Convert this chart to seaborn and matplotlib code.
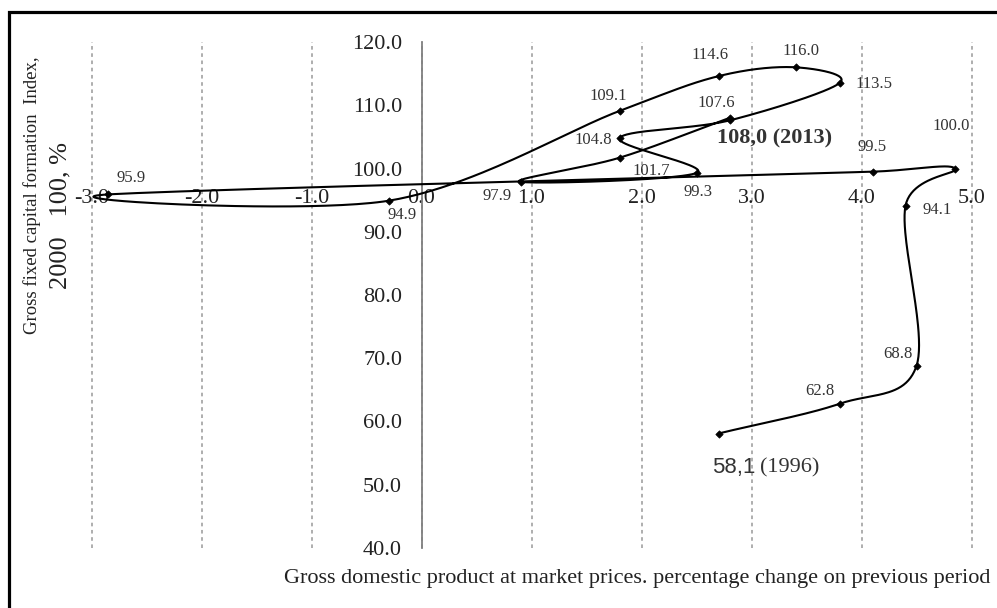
import numpy as np
import pandas as pd
import matplotlib
matplotlib.use("Agg")
import matplotlib.pyplot as plt
from matplotlib.patches import Rectangle
import seaborn as sns

# data (index 2000 = 100, GDP growth in %)
years = list(range(1996, 2014))
gdp_growth = [2.7, 3.8, 4.5, 4.4, 4.85, 4.1, -2.85, -0.3, 1.8,
              2.7, 3.4, 3.8, 2.8, 1.8, 2.5, 0.9, 1.8, 2.8]
gfcf_index = [58.1, 62.8, 68.8, 94.1, 100.0, 99.5, 95.9, 94.9, 109.1,
              114.6, 116.0, 113.5, 107.6, 104.8, 99.3, 97.9, 101.7, 108.0]
x_ticks = [-3.0, -2.0, -1.0, 0.0, 1.0, 2.0, 3.0, 4.0, 5.0]
y_ticks = [40.0, 50.0, 60.0, 70.0, 80.0, 90.0, 100.0, 110.0, 120.0]

df = pd.DataFrame({"year": years, "gdp": gdp_growth, "gfcf": gfcf_index})

sns.set_theme(style="white")
plt.rcParams["font.family"] = ["Liberation Serif", "DejaVu Serif"]

W, H = 997, 608
fig = plt.figure(figsize=(W / 100, H / 100), dpi=100)
# axes placed so that x=-3 sits at px 91 and x=5 at px 971, y 120..40 at px 42..548
ax = fig.add_axes([69.5 / W, 1 - 548 / H, 924 / W, 506 / H])
ax.set_xlim(-3.2, 5.2)
ax.set_ylim(40, 120)


def smooth_path(pts, n=50):
    """Excel-style smoothed line: Catmull-Rom bezier, handles clamped to half the segment"""
    out = []
    npts = len(pts)
    t = np.linspace(0, 1, n)[:, None]
    for i in range(npts - 1):
        p1, p2 = pts[i], pts[i + 1]
        p0 = pts[i - 1] if i > 0 else p1
        p3 = pts[i + 2] if i + 2 < npts else p2
        d12 = np.linalg.norm(p2 - p1)
        d02 = np.linalg.norm(p2 - p0)
        d13 = np.linalg.norm(p3 - p1)
        f0 = 1 / 3 if i == 0 else 1 / 6
        f1 = 1 / 3 if i + 2 >= npts else 1 / 6
        f0 = min(f0, d12 / (2 * d02)) if d02 > 0 else 0
        f1 = min(f1, d12 / (2 * d13)) if d13 > 0 else 0
        b1 = p1 + (p2 - p0) * f0
        b2 = p2 - (p3 - p1) * f1
        c = ((1 - t) ** 3) * p1 + 3 * ((1 - t) ** 2) * t * b1 \
            + 3 * (1 - t) * t ** 2 * b2 + t ** 3 * p2
        out.append(c if i == 0 else c[1:])
    return np.vstack(out)


disp = ax.transData.transform(df[["gdp", "gfcf"]].to_numpy())
curve = ax.transData.inverted().transform(smooth_path(disp))
sns.lineplot(x=curve[:, 0], y=curve[:, 1], sort=False, estimator=None,
             color="black", lw=1.5, ax=ax, zorder=3)
sns.scatterplot(data=df, x="gdp", y="gfcf", marker="D", s=14, color="black",
                edgecolor="black", linewidth=0.5, ax=ax, zorder=4)

# axes crossing: y axis at x=0, x ticks on the 100 line
ax.spines["left"].set_position(("data", 0))
ax.spines["left"].set_color("#808080")
ax.spines["left"].set_linewidth(1.3)
ax.spines["bottom"].set_position(("data", 100))
ax.spines["bottom"].set_color("none")
ax.spines["top"].set_visible(False)
ax.spines["right"].set_visible(False)

ax.set_xticks(x_ticks)
ax.set_xticklabels([f"{v:.1f}" for v in x_ticks])
ax.set_yticks(y_ticks)
ax.set_yticklabels([f"{v:.1f}" for v in y_ticks])
ax.tick_params(axis="x", direction="out", length=4, width=1, color="#808080",
               labelsize=16, pad=11, labelcolor="#222222")
ax.tick_params(axis="y", direction="out", length=4, width=1, color="#808080",
               labelsize=16, pad=10, labelcolor="#222222")
ax.grid(axis="x", linestyle=(0, (2, 2)), color="#a8a8a8", lw=1.3)
ax.grid(axis="y", visible=False)
ax.set_xlabel("")
ax.set_ylabel("")

# point labels, offsets in pixels
label_offset = {
    1997: (-20, 13), 1998: (-19, 12), 1999: (32, -4), 2000: (-4, 42),
    2001: (0, 25), 2002: (23, 16), 2003: (14, -14), 2004: (-11, 15),
    2005: (-8, 21), 2006: (5, 16), 2007: (34, -1), 2008: (-13, 17),
    2009: (-26, -2), 2010: (2, -19), 2011: (-23, -14), 2012: (32, -13),
}
for _, r in df.iterrows():
    yr = int(r["year"])
    if yr in label_offset:
        ax.annotate(f"{r['gfcf']:.1f}", (r["gdp"], r["gfcf"]),
                    xytext=label_offset[yr], textcoords="offset pixels",
                    ha="center", va="center", fontsize=12, color="#333333",
                    zorder=5)

first = df.iloc[0]
last = df.iloc[-1]
t1 = ax.annotate(f"{first['gfcf']:.1f}".replace(".", ","), (first["gdp"], first["gfcf"]),
                 xytext=(-6, -34), textcoords="offset pixels", ha="left", va="center",
                 fontsize=16, family=["Liberation Sans", "DejaVu Sans"], color="#333333")
ax.annotate(f"({int(first['year'])})", xy=(1, 0.5), xycoords=t1, xytext=(3, 0),
            textcoords="offset points", ha="left", va="center", fontsize=16,
            color="#333333")
ax.annotate(f"{last['gfcf']:.1f} ({int(last['year'])})".replace(".", ","),
            (last["gdp"], last["gfcf"]), xytext=(45, -21), textcoords="offset pixels",
            ha="center", va="center", fontsize=16, fontweight="bold", color="#333333")

fig.text(990 / W, 1 - 578 / H,
         "Gross domestic product at market prices. percentage change on previous period",
         ha="right", va="center", fontsize=16, color="#222222")
fig.text(32 / W, 1 - 195 / H, "Gross fixed capital formation  Index,",
         rotation=90, ha="center", va="center", fontsize=13.5, color="#222222")
fig.text(60 / W, 1 - 215 / H, "2000   100, %",
         rotation=90, ha="center", va="center", fontsize=19, color="#222222")

# outer frame, clipped on the right and bottom like the source image
fig.add_artist(Rectangle((8.5 / W, -0.1), 1.2, 1.1 - 11.5 / H, transform=fig.transFigure,
                         fill=False, ec="black", lw=2.3))

fig.savefig("out.png", dpi=100)
